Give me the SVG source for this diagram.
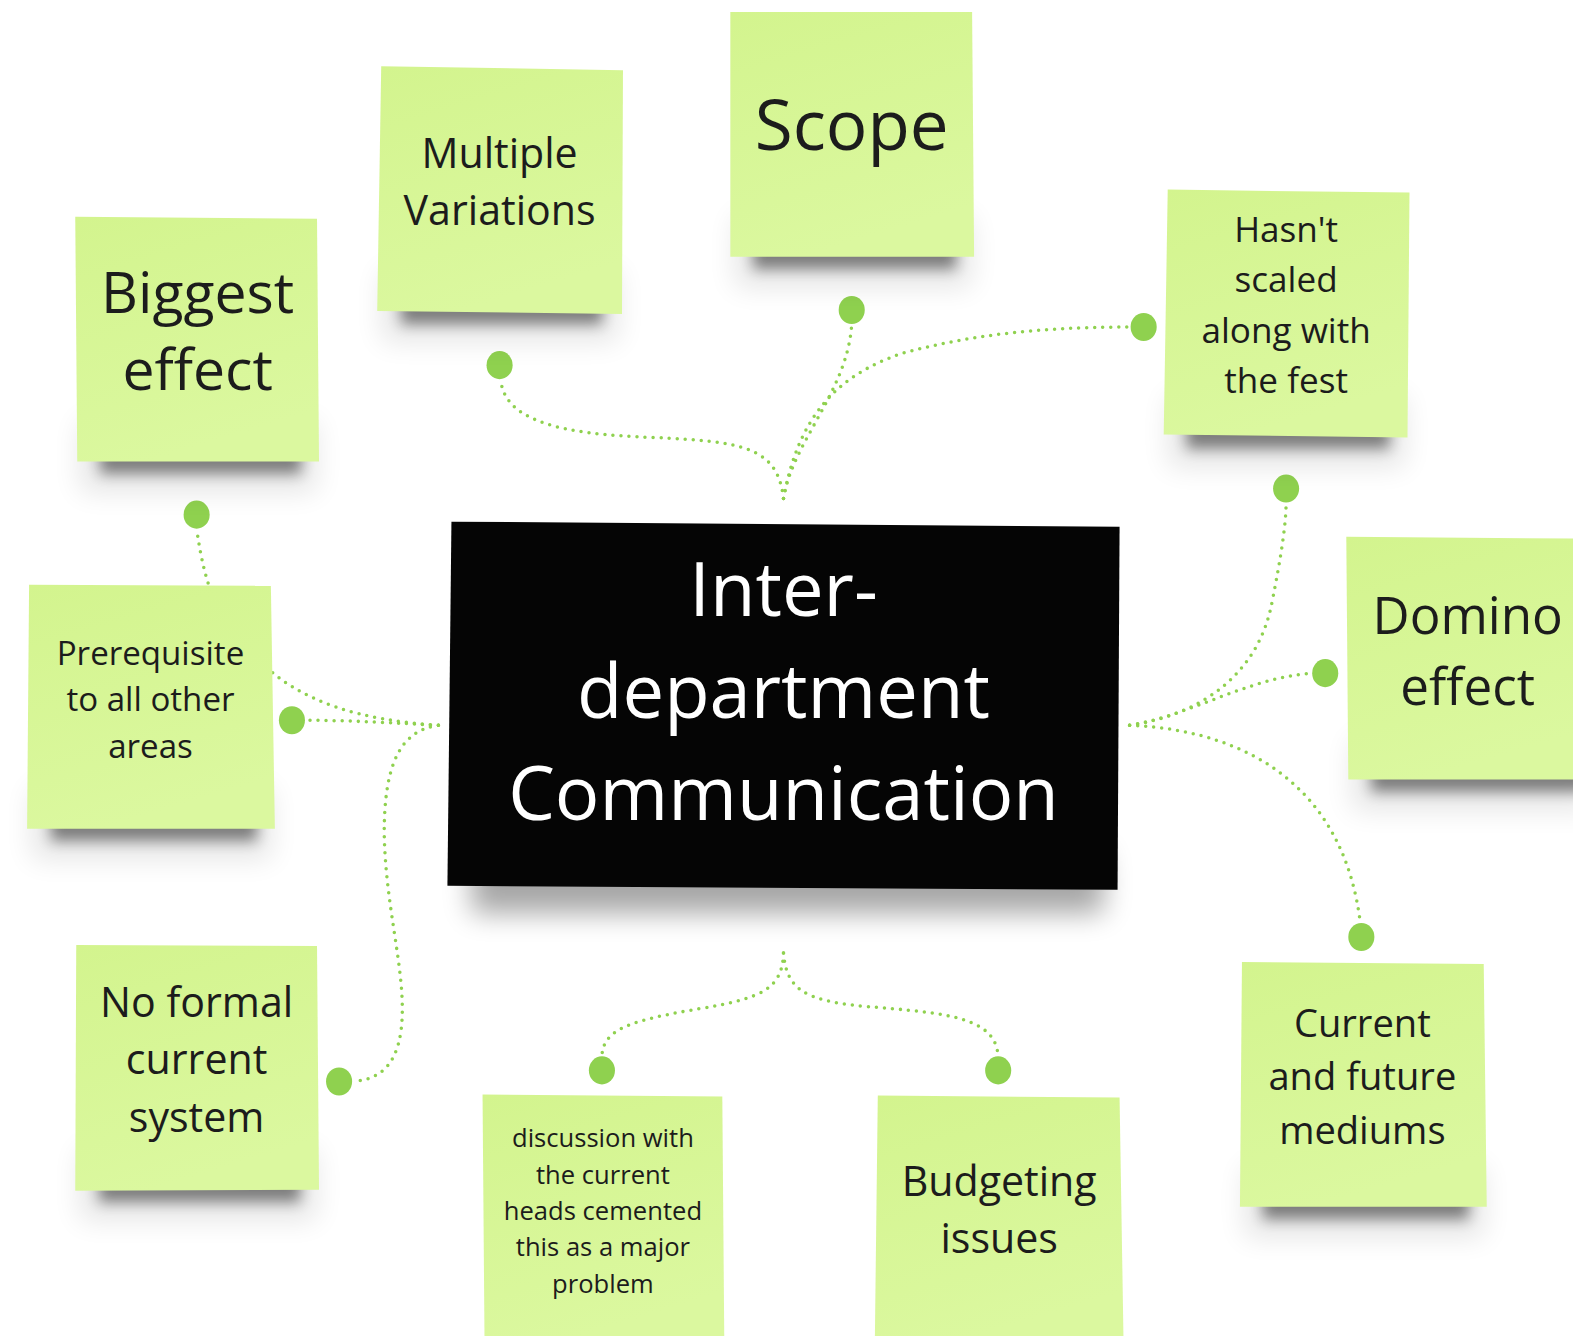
<svg xmlns="http://www.w3.org/2000/svg" width="1573" height="1336" viewBox="0 0 1573 1336">
<defs>
<linearGradient id="noteFill" x1="0" y1="0" x2="0.3" y2="1">
<stop offset="0" stop-color="#d3f48e"/>
<stop offset="1" stop-color="#dbf89f"/>
</linearGradient>
<filter id="sh" x="-20%" y="-60%" width="140%" height="220%"><feGaussianBlur stdDeviation="7"/></filter>
<filter id="halo" x="-30%" y="-60%" width="160%" height="220%"><feGaussianBlur stdDeviation="14"/></filter>
<filter id="shBig" x="-20%" y="-50%" width="140%" height="200%"><feGaussianBlur stdDeviation="14"/></filter>
<style>
.note{fill:url(#noteFill);}
.shadow{fill:#000;opacity:0.45;filter:url(#sh);}
.halo{fill:#000;opacity:0.1;filter:url(#halo);}
.t{font-family:"Open Sans","Noto Sans","Liberation Sans",sans-serif;fill:#1c1c1c;text-anchor:middle;}
.w{font-family:"Open Sans","Noto Sans","Liberation Sans",sans-serif;fill:#ffffff;text-anchor:middle;}
.c{fill:none;stroke:#8fd14f;stroke-width:3.5;stroke-linecap:round;stroke-dasharray:0 8;}
.dot{fill:#8fd14f;}
</style>
</defs>
<rect x="0" y="0" width="1573" height="1336" fill="#ffffff"/>
<g transform="scale(1.0032)">
<g id="connectors">
<path class="c" d="M781,497 C775,445 740,440 650,436 C560,433 503,420 499,378"/>
<path class="c" d="M781,497 C790,440 845,390 849,323"/>
<path class="c" d="M781,497 C795,420 830,375 900,352 C980,330 1060,326 1126,326"/>
<path class="c" d="M1126,723 C1200,712 1255,670 1268,600 C1278,550 1282,520 1282,501"/>
<path class="c" d="M1126,723 C1190,712 1240,677 1307,671"/>
<path class="c" d="M1126,723 C1250,728 1340,790 1356,920"/>
<path class="c" d="M437,723 C400,721 350,718 305,718"/>
<path class="c" d="M437,723 C360,718 300,700 260,660 C218,620 205,590 196,527"/>
<path class="c" d="M437,723 C400,728 383,760 383,830 C384,900 402,960 401,1010 C400,1060 380,1076 352,1078"/>
<path class="c" d="M781,950 C780,985 760,995 700,1005 C630,1017 601,1025 600,1053"/>
<path class="c" d="M781,950 C784,985 800,997 860,1003 C950,1010 992,1015 995,1053"/>
</g>
<g id="dots">
<ellipse class="dot" cx="196" cy="513" rx="13" ry="14"/>
<ellipse class="dot" cx="498" cy="364" rx="13" ry="14"/>
<ellipse class="dot" cx="849" cy="309" rx="13" ry="14"/>
<ellipse class="dot" cx="1140" cy="326" rx="13" ry="14"/>
<ellipse class="dot" cx="1282" cy="487" rx="13" ry="14"/>
<ellipse class="dot" cx="1321" cy="671" rx="13" ry="14"/>
<ellipse class="dot" cx="1357" cy="934" rx="13" ry="14"/>
<ellipse class="dot" cx="995" cy="1067" rx="13" ry="14"/>
<ellipse class="dot" cx="600" cy="1067" rx="13" ry="14"/>
<ellipse class="dot" cx="338" cy="1078" rx="13" ry="14"/>
<ellipse class="dot" cx="291" cy="718" rx="13" ry="14"/>
</g>
<g id="center">
<rect x="470" y="850" width="630" height="60" fill="#000" opacity="0.35" filter="url(#shBig)"/>
<polygon points="450,520 1116,525 1114,887 446,883" fill="#050505"/>
<text class="w" font-size="74" x="781" y="614">Inter-</text>
<text class="w" font-size="74" x="781" y="716">department</text>
<text class="w" font-size="74" x="781" y="817">Communication</text>
</g>
<g id="n-biggest">
<rect class="halo" x="80" y="420" width="235" height="70"/>
<rect class="shadow" x="100" y="434" width="200" height="38"/>
<polygon class="note" points="75,216 316,218 318,460 77,460"/>
<text class="t" font-size="57" x="197" y="312">Biggest</text>
<text class="t" font-size="57" x="197" y="389">effect</text>
</g>
<g id="n-multiple">
<rect class="halo" x="381" y="270" width="235" height="70"/>
<rect class="shadow" x="400" y="285" width="200" height="38"/>
<polygon class="note" points="380,66 621,70 620,313 376,310"/>
<text class="t" font-size="41" x="498" y="167">Multiple</text>
<text class="t" font-size="41" x="498" y="224">Variations</text>
</g>
<g id="n-scope">
<rect class="halo" x="733" y="216" width="235" height="70"/>
<rect class="shadow" x="751" y="230" width="202" height="38"/>
<polygon class="note" points="728,12 969,12 971,256 728,256"/>
<text class="t" font-size="69" x="849" y="150">Scope</text>
</g>
<g id="n-hasnt">
<rect class="halo" x="1165" y="395" width="235" height="70"/>
<rect class="shadow" x="1183" y="409" width="202" height="38"/>
<polygon class="note" points="1164,189 1405,192 1403,436 1160,433"/>
<text class="t" font-size="35" x="1282" y="241">Hasn't</text>
<text class="t" font-size="35" x="1282" y="291">scaled</text>
<text class="t" font-size="35" x="1282" y="342">along with</text>
<text class="t" font-size="35" x="1282" y="392">the fest</text>
</g>
<g id="n-domino">
<rect class="halo" x="1348" y="737" width="240" height="70"/>
<rect class="shadow" x="1367" y="751" width="220" height="38"/>
<polygon class="note" points="1342,535 1590,537 1590,777 1344,777"/>
<text class="t" font-size="51" x="1463" y="632">Domino</text>
<text class="t" font-size="51" x="1463" y="703">effect</text>
</g>
<g id="n-current">
<rect class="halo" x="1241" y="1163" width="238" height="70"/>
<rect class="shadow" x="1259" y="1177" width="205" height="38"/>
<polygon class="note" points="1238,959 1479,961 1482,1203 1236,1203"/>
<text class="t" font-size="38" x="1358" y="1034">Current</text>
<text class="t" font-size="38" x="1358" y="1087">and future</text>
<text class="t" font-size="38" x="1358" y="1140">mediums</text>
</g>
<g id="n-budgeting">
<polygon class="note" points="875,1092 1116,1094 1120,1340 872,1340"/>
<text class="t" font-size="41" x="996" y="1192">Budgeting</text>
<text class="t" font-size="41" x="996" y="1249">issues</text>
</g>
<g id="n-discussion">
<polygon class="note" points="481,1091 720,1093 722,1340 483,1340"/>
<text class="t" font-size="25.5" x="601" y="1143">discussion with</text>
<text class="t" font-size="25.5" x="601" y="1180">the current</text>
<text class="t" font-size="25.5" x="601" y="1216">heads cemented</text>
<text class="t" font-size="25.5" x="601" y="1252">this as a major</text>
<text class="t" font-size="25.5" x="601" y="1289">problem</text>
</g>
<g id="n-noformal">
<rect class="halo" x="80" y="1146" width="235" height="70"/>
<rect class="shadow" x="99" y="1160" width="200" height="38"/>
<polygon class="note" points="76,942 316,943 318,1186 75,1187"/>
<text class="t" font-size="41" x="196" y="1014">No formal</text>
<text class="t" font-size="41" x="196" y="1071">current</text>
<text class="t" font-size="41" x="196" y="1128">system</text>
</g>
<g id="n-prereq">
<rect class="halo" x="32" y="786" width="238" height="70"/>
<rect class="shadow" x="51" y="800" width="205" height="38"/>
<polygon class="note" points="29,583 270,584 274,826 27,826"/>
<text class="t" font-size="33" x="150" y="663">Prerequisite</text>
<text class="t" font-size="33" x="150" y="709">to all other</text>
<text class="t" font-size="33" x="150" y="756">areas</text>
</g>
</g>
</svg>
